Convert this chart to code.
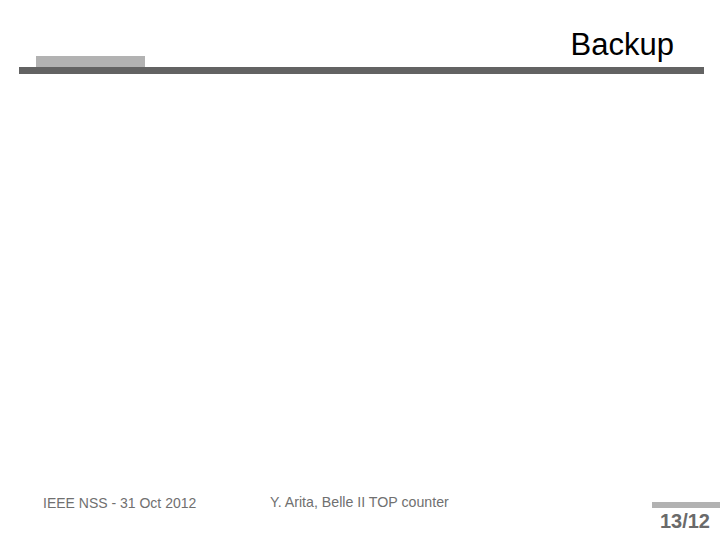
<!DOCTYPE html>
<html>
<head>
<meta charset="utf-8">
<script src="https://cdn.jsdelivr.net/npm/d3@7"></script>
<style>
  body { margin: 0; background: #fff; }
  svg { display: block; font-family: "Liberation Sans", Arial, sans-serif; }
</style>
</head>
<body>
<div id="slide"></div>
<script>
const titleText = "Backup";
const footerLeft = "IEEE NSS - 31 Oct 2012";
const footerMid = "Y. Arita, Belle II TOP counter";
const pageNumber = "13/12";

const width = 720,
  height = 540;

const svg = d3
  .select("#slide")
  .append("svg")
  .attr("width", width)
  .attr("height", height);

// header rules
svg
  .append("rect")
  .attr("x", 19)
  .attr("y", 67)
  .attr("width", 685)
  .attr("height", 7)
  .attr("fill", "#636363");

svg
  .append("rect")
  .attr("x", 36)
  .attr("y", 56)
  .attr("width", 109)
  .attr("height", 11)
  .attr("fill", "#b2b2b2");

svg
  .append("text")
  .attr("x", 674)
  .attr("y", 55)
  .attr("text-anchor", "end")
  .attr("font-size", 31)
  .attr("fill", "#000")
  .text(titleText);

// footer
svg
  .append("text")
  .attr("x", 43)
  .attr("y", 508)
  .attr("font-size", 14)
  .attr("fill", "#707070")
  .text(footerLeft);

svg
  .append("text")
  .attr("x", 270)
  .attr("y", 507)
  .attr("font-size", 14.2)
  .attr("fill", "#707070")
  .text(footerMid);

svg
  .append("rect")
  .attr("x", 652)
  .attr("y", 502)
  .attr("width", 68)
  .attr("height", 6)
  .attr("fill", "#b2b2b2");

svg
  .append("text")
  .attr("x", 710)
  .attr("y", 528)
  .attr("text-anchor", "end")
  .attr("font-size", 20)
  .attr("font-weight", "bold")
  .attr("fill", "#6a6a6a")
  .text(pageNumber);
</script>
</body>
</html>
